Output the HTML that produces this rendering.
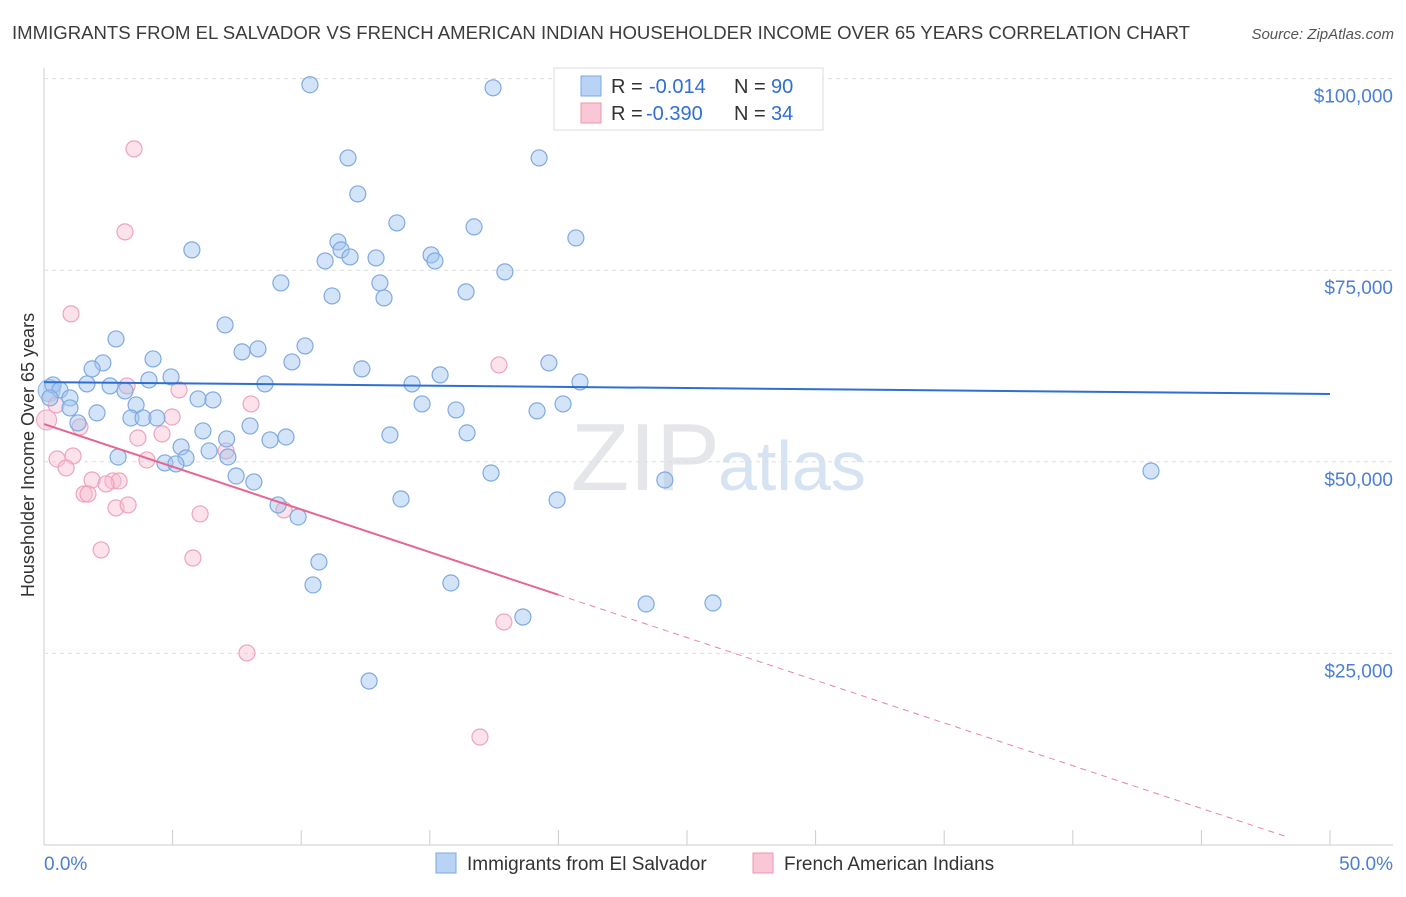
<!DOCTYPE html>
<html><head><meta charset="utf-8">
<style>
body{margin:0;background:#fff;font-family:"Liberation Sans",sans-serif;}
svg text{font-family:"Liberation Sans",sans-serif;}
</style></head>
<body>
<svg id="chart" width="1406" height="892">
<text x="12" y="39" font-size="18" fill="#3c3c3c" textLength="1178" lengthAdjust="spacingAndGlyphs">IMMIGRANTS FROM EL SALVADOR VS FRENCH AMERICAN INDIAN HOUSEHOLDER INCOME OVER 65 YEARS CORRELATION CHART</text>
<text x="1394" y="39" font-size="15" fill="#555" font-style="italic" text-anchor="end">Source: ZipAtlas.com</text>
<text x="720" y="490" font-size="96" fill="#e4e6ea" text-anchor="end" font-family="Liberation Serif">ZIP</text>
<text x="718" y="490" font-size="70" fill="#d6e3f3">atlas</text>
<text transform="translate(34,455) rotate(-90)" font-size="18" fill="#333" text-anchor="middle">Householder Income Over 65 years</text>
<g id="grid"></g><g id="marks"></g>
<g>
<rect x="554" y="68" width="269" height="62" fill="#fff" stroke="#ddd"/>
<rect x="581" y="76" width="20" height="20" fill="#b9d3f5" stroke="#7aa7e3"/>
<rect x="581" y="103" width="20" height="20" fill="#f9c7d6" stroke="#eb97b2"/>
<text y="93" font-size="20" fill="#333"><tspan x="611">R =</tspan><tspan x="649" fill="#2f6fd3">-0.014</tspan><tspan x="734">N =</tspan><tspan x="771" fill="#2f6fd3">90</tspan></text>
<text y="120" font-size="20" fill="#333"><tspan x="611">R =</tspan><tspan x="646" fill="#2f6fd3">-0.390</tspan><tspan x="734">N =</tspan><tspan x="771" fill="#2f6fd3">34</tspan></text>
</g>
<g>
<rect x="436" y="853" width="20" height="20" fill="#b9d3f5" stroke="#7aa7e3"/>
<text x="467" y="870" font-size="19" fill="#333">Immigrants from El Salvador</text>
<rect x="753" y="853" width="20" height="20" fill="#f9c7d6" stroke="#eb97b2"/>
<text x="784" y="870" font-size="19" fill="#333">French American Indians</text>
</g>
<text x="44" y="870" font-size="19" fill="#4a7fd4">0.0%</text>
<text x="1393" y="870" font-size="19" fill="#4a7fd4" text-anchor="end">50.0%</text>
</svg>
<script>
const yTicks=[25000,50000,75000,100000];
const yTickLabels=["$25,000","$50,000","$75,000","$100,000"];
const blueX=[10.34,17.46,11.82,19.25,12.2,13.72,16.72,20.68,5.75,11.43,11.55,10.93,11.9,12.91,15.05,15.2,17.92,9.21,13.06,11.2,13.22,16.41,7.04,2.8,10.15,7.7,8.32,4.24,2.29,9.64,19.63,1.87,12.36,15.4,4.94,4.08,14.31,20.84,8.59,1.67,2.57,0.35,0.62,3.15,1.01,0.23,5.99,6.57,3.58,14.7,20.18,1.01,2.06,16.02,19.17,3.38,3.85,4.39,1.32,8.01,6.18,13.45,16.45,9.41,8.79,7.1,5.33,6.42,7.15,2.88,5.52,4.7,5.13,7.47,8.16,17.38,24.14,43.04,13.88,19.95,9.1,9.88,10.69,10.46,15.82,23.41,26.01,18.62,12.64];
const blueY=[99200,98800,89650,89650,84950,81170,80650,79210,77650,78690,77650,76210,76730,76600,76990,76210,74780,73340,73340,71640,71380,72170,67860,66030,65120,64340,64730,63420,62900,63030,62900,62120,62120,61340,61070,60680,60160,60420,60160,60160,59900,60030,59380,59250,58330,58330,58200,58070,57420,57550,57550,57030,56380,56770,56640,55720,55720,55720,55070,54680,54030,53500,53770,53240,52850,52980,51940,51420,50630,50630,50500,49850,49720,48150,47370,48540,47630,48800,45150,45020,44370,42800,36930,33930,34190,31450,31580,29750,21400];
const pinkX=[3.5,3.15,1.05,17.69,5.25,3.23,8.05,0.47,4.98,1.4,4.59,3.65,1.13,0.51,4.0,7.08,0.86,1.87,2.68,2.92,2.41,1.56,1.71,2.8,3.27,6.07,9.33,2.22,5.79,17.88,7.89,16.95];
const pinkY=[90830,80000,69300,62640,59380,59900,57550,57420,55850,54550,53640,53110,50760,50370,50240,51420,49200,47630,47500,47500,47110,45800,45800,43980,44370,43200,43720,38500,37450,29100,25060,14090];
const blueTrend=[60400,58850];
const pinkTrend=[54930,-800];
const pinkSolidEnd=20;
const NS="http://www.w3.org/2000/svg";
const X=p=>44+p*25.72, Y=v=>845-v*0.007664;
function mk(t,a,parent){const e=document.createElementNS(NS,t);for(const k in a)e.setAttribute(k,a[k]);parent.appendChild(e);return e;}
const grid=document.getElementById('grid'),marks=document.getElementById('marks');
let ax=mk('line',{x1:44,y1:68,x2:44,y2:845,stroke:'#ccc'},grid);


let bx=mk('line',{x1:44,y1:845,x2:1393,y2:845,stroke:'#ccc'},grid);


for(let i=0;i<=10;i++){let t=mk('line',{x1:X(i*5),y1:830,x2:X(i*5),y2:845,stroke:'#ccc'},grid);

}
yTicks.forEach((v,i)=>{let g=mk('line',{x1:44,y1:Y(v),x2:1393,y2:Y(v),stroke:'#ddd','stroke-dasharray':'4 4'},grid);


let t=mk('text',{x:1393,y:Y(v)+24,'font-size':19,fill:'#4a7fd4','text-anchor':'end'},grid);t.textContent=yTickLabels[i];

});
let big=mk('circle',{cx:X(0.2),cy:Y(59300),r:11,fill:'rgba(160,196,240,0.5)',stroke:'#8fb4e8'},marks);


let bigp=mk('circle',{cx:X(0.1),cy:Y(55460),r:10,fill:'rgba(248,190,208,0.5)',stroke:'#eda3bc'},marks);


pinkX.forEach((x,i)=>{let c=mk('circle',{cx:X(x),cy:Y(pinkY[i]),r:8,fill:'rgba(248,190,208,0.45)',stroke:'#eda3bc','stroke-width':1.2},marks);

});
blueX.forEach((x,i)=>{let c=mk('circle',{cx:X(x),cy:Y(blueY[i]),r:8,fill:'rgba(160,196,240,0.45)',stroke:'#7ea9e2','stroke-width':1.2},marks);

});
let bl=mk('line',{x1:X(0),y1:Y(blueTrend[0]),x2:X(50),y2:Y(blueTrend[1]),stroke:'#2f6fd3','stroke-width':2},marks);


const py=p=>pinkTrend[0]+(pinkTrend[1]-pinkTrend[0])*p/50;
let pl=mk('line',{x1:X(0),y1:Y(pinkTrend[0]),x2:X(pinkSolidEnd),y2:Y(py(pinkSolidEnd)),stroke:'#e5668f','stroke-width':2},marks);


let pd=mk('line',{x1:X(pinkSolidEnd),y1:Y(py(pinkSolidEnd)),x2:X(48.3),y2:Y(py(48.3)),stroke:'#e8849f','stroke-width':1,'stroke-dasharray':'6 5'},marks);


</script>
</body></html>
